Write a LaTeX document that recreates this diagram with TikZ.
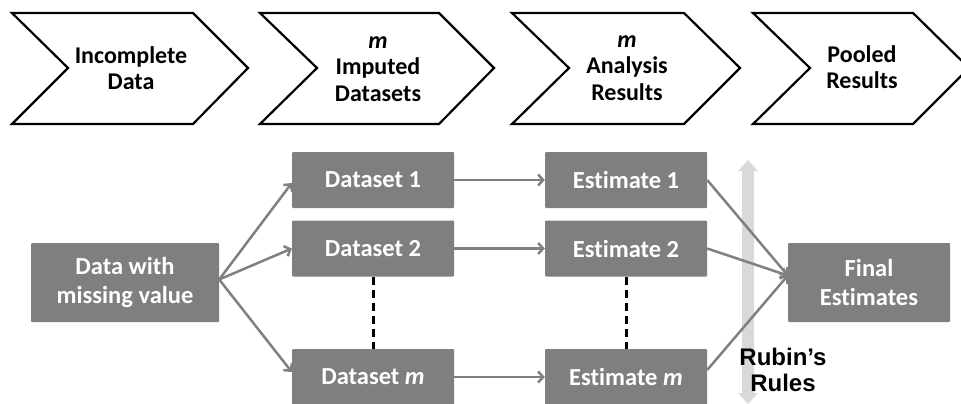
\documentclass[tikz,border=0pt]{standalone}
\usepackage{fontspec}
\setmainfont{Carlito}[Ligatures=NoCommon]
\newfontfamily\rubfont{Liberation Sans}
\usetikzlibrary{arrows.meta,calc}
\definecolor{boxgray}{RGB}{127,127,127}
\definecolor{linegray}{RGB}{128,128,128}
\definecolor{rubgray}{RGB}{217,217,217}
\begin{document}
\begin{tikzpicture}[x=1pt,y=-1pt,
  chev/.style={draw=black, line width=2.2pt, fill=white, line join=miter},
  chevtext/.style={align=center, font=\fontsize{24}{26.5}\selectfont\bfseries, inner sep=0pt},
  gbox/.style={fill=boxgray, text=white, align=center, inner sep=0pt,
    font=\fontsize{24.5}{29}\selectfont\bfseries, rounded corners=1pt},
  sbox/.style={gbox, minimum width=162pt, minimum height=56pt},
  bbox/.style={gbox, minimum height=79pt},
  conn/.style={draw=linegray, line width=2.5pt, -{Straight Barb[length=5pt,width=11pt]}},
  dots/.style={draw=black, line width=3pt, dash pattern=on 8pt off 5pt}
]
\useasboundingbox (0,0) rectangle (961,404);
\clip (0,0) rectangle (961,404);
% chevrons
\draw[chev] (12,13) -- (193,13) -- (248,68) -- (193,124) -- (12,124) -- (68,68) -- cycle;
\draw[chev] (260,13) -- (439,13) -- (494,68) -- (439,124) -- (260,124) -- (317,68) -- cycle;
\draw[chev] (512,13) -- (684,13) -- (740,68) -- (684,124) -- (512,124) -- (569,68) -- cycle;
\draw[chev] (753,13) -- (913,13) -- (969,68) -- (913,124) -- (753,124) -- (810,68) -- cycle;
\node[chevtext] (c1) at (131,68) {Incomplete\\Data};
\node[chevtext] (c2) at (378,69) {\itshape m\\Imputed\\Datasets};
\node[chevtext] (c3) at (627,68) {\itshape m\\Analysis\\Results};
\node[chevtext] (c4) at (862,67) {Pooled\\Results};
% Rubin's rules arrow
\fill[rubgray] (748,160) -- (758,171) -- (754,171) -- (754,393) -- (758,393) -- (748,404)
  -- (738,393) -- (742,393) -- (742,171) -- (738,171) -- cycle;
\node[align=center, inner sep=0pt, font=\rubfont\fontsize{24}{26}\selectfont\bfseries] (rr) at (783,370) {Rubin’s\\Rules};
% boxes
\node[bbox, minimum width=188pt] (data) at (125,282.5) {Data with\\missing value};
\node[sbox] (d1) at (373,180) {Dataset 1};
\node[sbox] (d2) at (373,248.5) {Dataset 2};
\node[sbox] (dm) at (373,377) {Dataset \textit{m}};
\node[sbox] (e1) at (626,180) {Estimate 1};
\node[sbox] (e2) at (626,248.5) {Estimate 2};
\node[sbox] (em) at (626,377) {Estimate \textit{m}};
\node[bbox, minimum width=162pt] (fin) at (869,282.5) {Final\\Estimates};
% connectors
\coordinate (dout) at ($(data.east)+(0,-3)$);
\coordinate (fin in) at ($(fin.west)+(0,-7)$);
\draw[conn] (dout) -- ($(d1.west)+(0,3)$);
\draw[conn] (dout) -- (d2.west);
\draw[conn] (dout) -- ($(dm.west)+(0,-5)$);
\draw[conn] (d1.east) -- (e1.west);
\draw[conn] (d2.east) -- (e2.west);
\draw[conn] (dm.east) -- (em.west);
\draw[conn] (e1.east) -- (fin in);
\draw[conn] (e2.east) -- (fin in);
\draw[conn] ($(em.east)+(0,-7)$) -- (fin in);
\draw[dots] (d2.south) -- (dm.north);
\draw[dots] (e2.south) -- (em.north);
\end{tikzpicture}
\end{document}
